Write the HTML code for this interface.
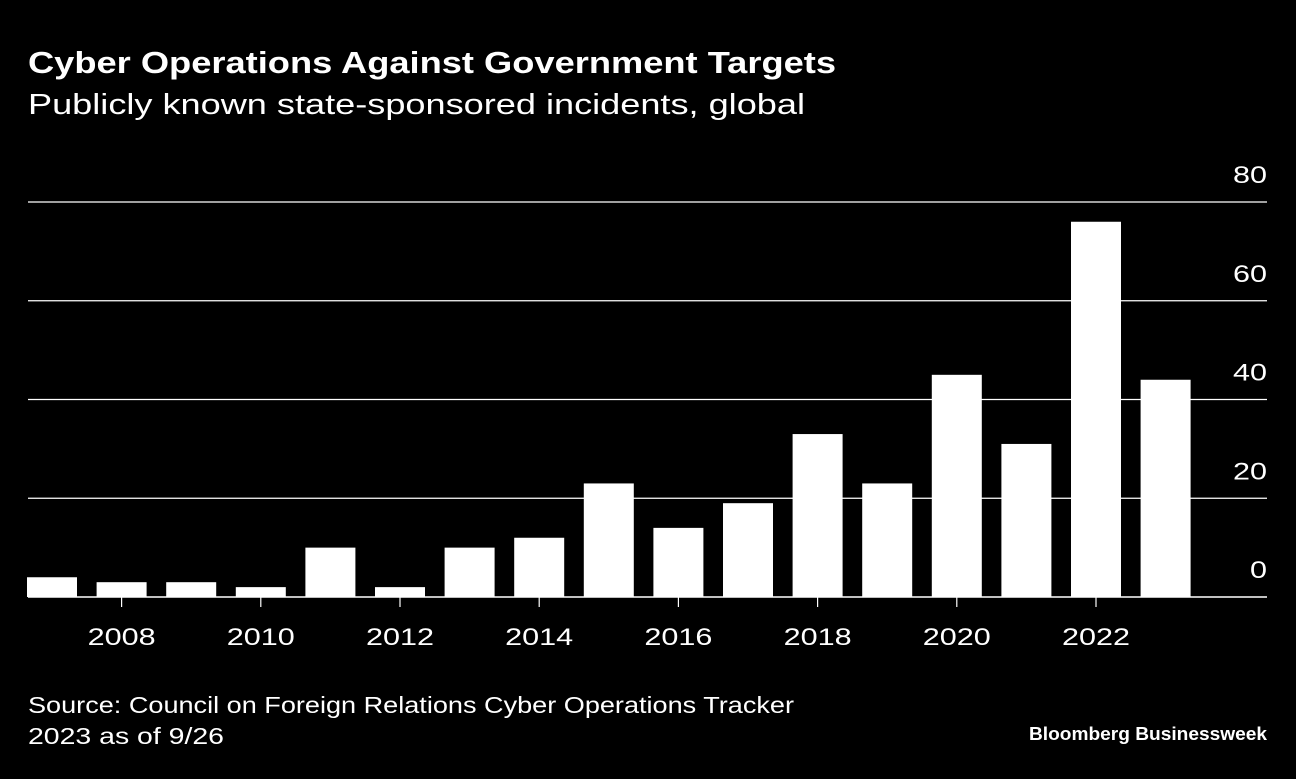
<!DOCTYPE html>
<html><head><meta charset="utf-8"><style>
body{margin:0;background:#000;width:1296px;height:774px;overflow:hidden;font-family:"Liberation Sans",Arial,sans-serif;color:#fff}
svg text{font-family:"Liberation Sans",Arial,sans-serif;fill:#fff}
</style></head><body>
<svg width="1296" height="774">
<text x="28" y="73" font-size="31" font-weight="bold" textLength="808" lengthAdjust="spacingAndGlyphs">Cyber Operations Against Government Targets</text>
<text x="28" y="114" font-size="29" textLength="777" lengthAdjust="spacingAndGlyphs">Publicly known state-sponsored incidents, global</text>
<g id="grid"></g><g id="bars"></g><g id="xaxis"></g>
<text x="28" y="713" font-size="23" textLength="766" lengthAdjust="spacingAndGlyphs">Source: Council on Foreign Relations Cyber Operations Tracker</text>
<text x="28" y="744" font-size="23" textLength="196" lengthAdjust="spacingAndGlyphs">2023 as of 9/26</text>
<text x="1267" y="740" font-size="18" font-weight="bold" text-anchor="end" textLength="238" lengthAdjust="spacingAndGlyphs">Bloomberg Businessweek</text>
</svg>
<script>
const years=[2007,2008,2009,2010,2011,2012,2013,2014,2015,2016,2017,2018,2019,2020,2021,2022,2023];
const values=[4,3,3,2,10,2,10,12,23,14,19,33,23,45,31,76,44];
const yTicks=[0,20,40,60,80];
const xTickLabels=[2008,2010,2012,2014,2016,2018,2020,2022];
const NS="http://www.w3.org/2000/svg";
const y0=597,yScale=(597-202)/80;
const yPos=v=>y0-v*yScale;
const step=69.6,bw=50;
const xPos=yr=>27+(yr-2007)*step;
function mk(t,a,p){const e=document.createElementNS(NS,t);for(const k in a)e.setAttribute(k,a[k]);document.getElementById(p).appendChild(e);return e;}
yTicks.forEach(t=>{
 const l=mk('line',{x1:28,x2:1267,y1:yPos(t),y2:yPos(t),stroke:'#fff','stroke-width':t===0?1.5:1.2},'grid');
 
 
 const tx=mk('text',{x:1267,y:yPos(t)-19,'font-size':24,'text-anchor':'end',textLength:String(t).length*17,lengthAdjust:'spacingAndGlyphs'},'grid');
 tx.textContent=t;
 
 
});
years.forEach((yr,i)=>{
 const r=mk('rect',{x:xPos(yr),y:yPos(values[i]),width:bw,height:values[i]*yScale,fill:'#fff'},'bars');
 
 
});
xTickLabels.forEach(yr=>{
 const cx=xPos(yr)+bw/2;
 const l=mk('line',{x1:cx,x2:cx,y1:597,y2:607,stroke:'#fff','stroke-width':1.2},'xaxis');
 
 
 const t=mk('text',{x:cx,y:645,'font-size':24,'text-anchor':'middle',textLength:68,lengthAdjust:'spacingAndGlyphs'},'xaxis');
 t.textContent=yr;
 
 
});
</script>
</body></html>
